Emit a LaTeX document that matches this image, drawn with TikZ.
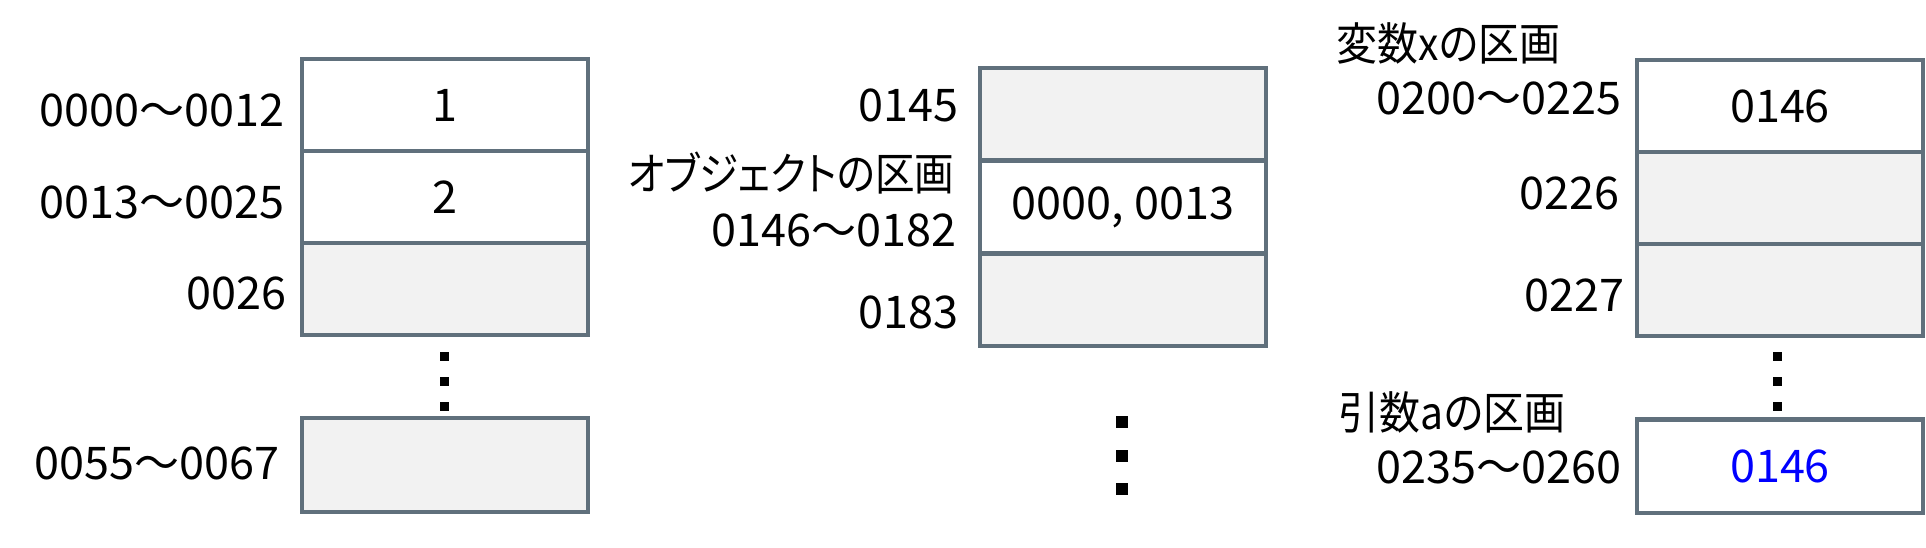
\documentclass[tikz,border=0pt]{standalone}
\usepackage{fontspec}
\setmainfont{Noto Sans CJK JP}
\newfontfamily\jpprop[RawFeature=+palt]{Noto Sans CJK JP}
\usepackage{tikz}
\usetikzlibrary{positioning}
\usepackage{xcolor}
\definecolor{cellline}{RGB}{96,112,124}
\definecolor{cellfill}{RGB}{242,242,242}

\tikzset{
    cell/.style={draw=cellline, line width=1.15pt, minimum width=2.86cm, minimum height=0.92cm,
        inner sep=0pt, font=\fontsize{12.8}{15}\selectfont},
    used/.style={cell, fill=white},
    free/.style={cell, fill=cellfill},
    addr/.style={anchor=east, inner sep=0pt, font=\fontsize{12.8}{15}\selectfont},
    area/.style={anchor=west, inner sep=0pt, font=\jpprop\fontsize{12.8}{15}\selectfont},
}

\begin{document}
\begin{tikzpicture}[x=0.01cm, y=-0.01cm]
    \useasboundingbox (0,0) rectangle (1926,547);

    % Left column: the values
    \node[used] (v1) at (445,105) {1};
    \node[used] (v2) at (445,197) {2};
    \node[free] (v3) at (445,289) {};
    \node[free, minimum height=0.94cm] (v4) at (445,465) {};

    \node[addr] (lv1) at (285,110) {0000～0012};
    \node[addr] (lv2) at (285,202) {0013～0025};
    \node[addr] (lv3) at (287,293) {0026};
    \node[addr] (lv4) at (280,463) {0055～0067};

    \foreach \y in {356, 381, 406}
        \fill (440,\y-4.5) rectangle (449,\y+4.5);

    % Middle column: the object
    \node[free] (o1) at (1123,114) {};
    \node[used] (o2) at (1123,207) {0000, 0013};
    \node[free] (o3) at (1123,300) {};

    \node[addr] (lo1) at (959,105) {0145};
    \node[area, anchor=east] (lname) at (955,173) {\scalebox{0.88}[1]{オブジェクトの区画}};
    \node[addr] (lo2) at (957,230) {0146～0182};
    \node[addr] (lo3) at (959,312) {0183};

    \foreach \y in {422, 456, 489}
        \fill (1116,\y-6) rectangle (1128,\y+6);

    % Right column: the variables
    \node[used] (x1) at (1780,106) {0146};
    \node[free] (x2) at (1780,198) {};
    \node[free] (x3) at (1780,290) {};
    \node[used, minimum height=0.93cm] (a1) at (1780,466) {\textcolor{blue}{0146}};

    \node[area] (lx) at (1336,43) {\scalebox{0.91}[1]{変数xの区画}};
    \node[addr] (lx1) at (1622,98) {0200～0225};
    \node[addr] (lx2) at (1620,193) {0226};
    \node[addr] (lx3) at (1625,295) {0227};
    \node[area] (la) at (1338,412) {\scalebox{0.91}[1]{引数aの区画}};
    \node[addr] (la1) at (1622,467) {0235～0260};

    \foreach \y in {356, 381, 406}
        \fill (1773,\y-4.5) rectangle (1782,\y+4.5);
\end{tikzpicture}
\end{document}
